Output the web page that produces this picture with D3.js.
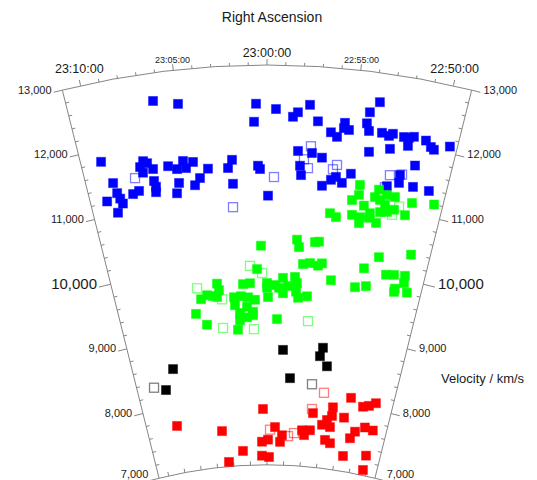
<!DOCTYPE html>
<html>
<head>
<meta charset="utf-8">
<script src="https://cdn.jsdelivr.net/npm/d3@7"></script>
<style>
  html, body { margin: 0; padding: 0; background: #ffffff; }
  svg { display: block; font-family: "Liberation Sans", Arial, Helvetica, sans-serif; }
</style>
</head>
<body>
<svg id="chart" width="537" height="480"></svg>
<script>
// Galaxies in a redshift wedge: [right ascension (deg), velocity (km/s)]
const blueFilled = [
  [346.573,12580],[346.236,12490],[345.153,12420],[344.874,12340],[344.564,12300],[344.632,12230],[344.400,12420],[345.185,12150],[344.275,12180],[344.078,12030],
  [343.985,11970],[343.890,12190],[343.897,12110],[343.823,12090],[343.439,12560],[343.558,12390],[343.580,12220],[343.537,12110],[343.349,12110],[343.244,12080],
  [343.192,12120],[343.029,12100],[342.957,12100],[342.889,12130],[342.710,12110],[342.622,12030],[342.571,12000],[342.357,12100],[342.950,11980],[343.497,11800],
  [343.200,11890],[344.541,11720],[344.333,11700],[344.180,11640],[344.502,11500],[344.480,11360],[342.794,11710],[347.453,11820],[346.843,11710],[346.789,11670],
  [346.902,11630],[346.715,11570],[346.486,11580],[346.255,11630],[346.108,11600],[346.358,11520],[346.222,11520],[345.893,11480],[345.524,11590],[345.590,11470],
  [345.136,11490],[345.106,11440],[346.873,11540],[346.728,11390],[346.711,11300],[346.723,11220],[346.353,11310],[346.112,11250],[346.026,11350],[345.526,11230],
  [344.149,11220],[344.018,11320],[343.946,11370],[343.847,11290],[343.725,11440],[342.989,11530],[342.982,11410],[343.155,11330],[342.761,11390],[342.511,11380],
  [347.345,11470],[347.316,11310],[347.078,11250],[346.979,11280],[347.287,11220],[347.261,11140],[347.494,11220],[347.366,11020],[346.403,11160],[344.984,11040]
];
const blueOpen = [
  [347.005,11480],[344.354,11800],[344.447,11600],[344.380,11470],[343.947,11550],[344.002,11480],
  [344.893,11320],[345.543,10880],[343.137,11500],[342.959,11540],[343.182,11310]
];
const greenFilled = [
  [343.567,11290],[343.266,11260],[343.661,11050],[343.562,11140],[343.464,10990],[343.311,11140],[343.227,11110],[343.132,11200],[343.004,11190],[343.136,11050],
  [342.983,11000],[342.727,11150],[342.387,11200],[342.797,10950],[343.633,10830],[343.501,10810],[343.504,10720],[343.355,10820],[343.232,10760],[343.351,10890],
  [343.196,10930],[343.087,10950],[343.092,10260],[342.569,10390],[343.315,10060],[342.919,10020],[342.783,10040],[342.593,10060],[343.424,9760],[343.233,9800],
  [342.721,9840],[342.497,9820],[342.723,9790],[342.584,9950],[345.102,10290],[344.497,10390],[344.458,10280],[344.194,10370],[344.127,10380],[343.987,10820],
  [343.885,10770],[343.863,9820],[344.375,10030],[344.255,10050],[344.112,10020],[344.047,10060],[345.175,9940],[345.895,9750],[345.868,9650],[346.092,9590],
  [346.208,9540],[345.985,9570],[345.914,9550],[345.431,9720],[345.305,9730],[345.000,9730],[344.856,9700],[344.716,9810],[344.503,9830],[344.463,9740],
  [344.622,9690],[344.783,9660],[345.000,9660],[344.709,9580],[344.431,9520],[344.269,9550],[344.473,9610],[345.604,9530],[345.476,9540],[345.348,9520],
  [345.221,9480],[345.594,9410],[345.372,9380],[345.263,9300],[345.379,9220],[345.508,9290],[345.514,9180],[345.561,9040],[345.264,9250],[344.982,9520],
  [346.332,9330],[346.148,9150],[344.810,9190]
];
const greenOpen = [
  [345.297,9990],[345.088,9880],[346.259,9710],[345.826,9510],[345.847,9080],[345.251,9040],[344.219,9180],[342.915,11060],[343.001,10920]
];
const blackFilled = [
  [346.932,8560],[347.155,8270],[344.679,8730],[344.515,8310],[343.885,8800],[343.929,8670],[343.766,8530]
];
const blackOpen = [[347.393,8340],[344.041,8240]];
const redFilled = [
  [343.173,8110],[345.090,7840],[343.964,7810],[343.535,7930],[342.882,8010],[342.757,8040],[342.622,8100],[347.064,7710],[346.052,7540],[344.814,7570],
  [344.646,7450],[345.120,7350],[344.976,7380],[344.688,7350],[344.183,7540],[343.997,7550],[344.127,7470],[343.732,7650],[343.632,7730],[343.531,7800],
  [343.544,7630],[343.257,7800],[343.622,7430],[343.494,7390],[343.045,7510],[342.956,7620],[342.751,7710],[342.560,7690],[345.587,7220],[345.124,7140],
  [344.950,7120],[345.950,7070],[343.138,7230],[342.590,7300],[342.589,7080]
];
const redOpen = [[343.767,8130],[343.994,7870],[344.930,7530],[344.503,7440],[344.365,7490]];

// Axis extents and tick labels
const raDomain = [347.75, 342.25];          // 23:11:00 .. 22:49:00
const velDomain = [7000, 13000];
const raLabelValues = [347.5, 346.25, 345.0, 343.75, 342.5];
const raLabelText = ["23:10:00", "23:05:00", "23:00:00", "22:55:00", "22:50:00"];
const velTickValues = [7000, 8000, 9000, 10000, 11000, 12000, 13000];
const velTickText = ["7,000", "8,000", "9,000", "10,000", "11,000", "12,000", "13,000"];

const W = 537, H = 480;
const svg = d3.select("#chart");
const deg = Math.PI / 180;
const cx = 267, cy = 911;
const rScale = d3.scaleLinear().domain(velDomain).range([446, 846]);
const aScale = d3.scaleLinear().domain(raDomain).range([-14 * deg, 14 * deg]);
const polar = (a, r) => [cx + r * Math.sin(a), cy - r * Math.cos(a)];
const axisColor = "#858585";
const textColor = "#1a1a1a";

const frame = svg.append("g");
const a0 = aScale(raDomain[0]), a1 = aScale(raDomain[1]);
const rIn = rScale(velDomain[0]), rOut = rScale(velDomain[1]);

// wedge outline
const p = d3.path();
const start = polar(a0, rOut);
p.moveTo(start[0], start[1]);
p.arc(cx, cy, rOut, a0 - Math.PI / 2, a1 - Math.PI / 2, false);
const inner = polar(a1, rIn);
p.lineTo(inner[0], inner[1]);
p.arc(cx, cy, rIn, a1 - Math.PI / 2, a0 - Math.PI / 2, true);
p.closePath();
frame.append("path").attr("d", p.toString())
  .attr("fill", "none").attr("stroke", axisColor).attr("stroke-width", 1);

function tick(x1, y1, x2, y2) {
  frame.append("line").attr("x1", x1).attr("y1", y1).attr("x2", x2).attr("y2", y2)
    .attr("stroke", axisColor).attr("stroke-width", 1);
}

// RA ticks on the outer arc: every minute, longer every five minutes
const raMinutes = d3.range(1, 22).map(m => raDomain[0] - m * 0.25);
raMinutes.forEach(ra => {
  const k = (345 - ra) / 1.25;
  const major = Math.abs(k - Math.round(k)) < 1e-6;
  const a = aScale(ra);
  const q0 = polar(a, rOut), q1 = polar(a, rOut + (major ? 6 : 3));
  tick(q0[0], q0[1], q1[0], q1[1]);
});

// ticks on the inner arc, every 100 s of RA
d3.range(-6, 7).map(k => 345 + k * 100 / 240).forEach(ra => {
  const a = aScale(ra);
  const q0 = polar(a, rIn), q1 = polar(a, rIn + 4);
  tick(q0[0], q0[1], q1[0], q1[1]);
});

// velocity ticks along both radial edges
[[a0, -1], [a1, 1]].forEach(([a, side]) => {
  const nx = side * Math.cos(a), ny = side * Math.sin(a);
  d3.range(velDomain[0], velDomain[1] + 1, 200).forEach(v => {
    const q = polar(a, rScale(v));
    if (v % 1000 === 0) {
      const len = v === 10000 ? 12 : 9;
      tick(q[0], q[1], q[0] + nx * len, q[1] + ny * len);
    } else {
      tick(q[0], q[1], q[0] - nx * 3.5, q[1] - ny * 3.5);
    }
  });
});

// RA labels above the outer arc
raLabelValues.forEach((ra, i) => {
  const big = Math.abs(((345 - ra) / 2.5) - Math.round((345 - ra) / 2.5)) < 1e-6;
  const fs = big ? 12.5 : 9;
  const gap = big ? 8 : 5;
  const a = aScale(ra);
  const ux = Math.sin(a), uy = -Math.cos(a);
  const q = polar(a, rOut);
  const tickEnd = polar(a, rOut + 6);
  const t = svg.append("text").text(raLabelText[i])
    .attr("font-size", fs).attr("fill", textColor).attr("text-anchor", "middle");
  const hw = t.node().getComputedTextLength() / 2;
  const hh = fs * 0.358;
  const dist = gap + Math.abs(hw * ux) + Math.abs(hh * uy);
  const yc = q[1] + uy * dist;
  t.attr("x", tickEnd[0]).attr("y", yc + hh);
});

// velocity labels on both edges
[[a0, -1], [a1, 1]].forEach(([a, side]) => {
  const nx = side * Math.cos(a);
  velTickValues.forEach((v, i) => {
    const big = v === 10000;
    const fs = big ? 15 : 11;
    const len = big ? 12 : 9;
    const q = polar(a, rScale(v));
    const ex = q[0] + nx * len;
    const hh = fs * 0.358;
    const yc = Math.min(q[1] - 0.5, H - hh - 2.5);
    svg.append("text").text(velTickText[i])
      .attr("font-size", fs).attr("fill", textColor)
      .attr("text-anchor", side < 0 ? "end" : "start")
      .attr("x", side < 0 ? ex - 2 : ex + 3)
      .attr("y", yc + hh);
  });
});

// axis titles
svg.append("text").text("Right Ascension")
  .attr("x", 272).attr("y", 22).attr("text-anchor", "middle")
  .attr("font-size", 14).attr("fill", textColor);
svg.append("text").text("Velocity / km/s")
  .attr("x", 441).attr("y", 383)
  .attr("font-size", 13).attr("fill", textColor);

// galaxies
const size = 9;
function drawOpen(data, color) {
  svg.append("g").selectAll("rect").data(data).join("rect")
    .attr("x", d => polar(aScale(d[0]), rScale(d[1]))[0] - size / 2)
    .attr("y", d => polar(aScale(d[0]), rScale(d[1]))[1] - size / 2)
    .attr("width", size).attr("height", size)
    .attr("fill", "none").attr("stroke", color)
    .attr("stroke-opacity", 0.5).attr("stroke-width", 1.3);
}
function drawFilled(data, color) {
  svg.append("g").selectAll("rect").data(data).join("rect")
    .attr("x", d => polar(aScale(d[0]), rScale(d[1]))[0] - size / 2)
    .attr("y", d => polar(aScale(d[0]), rScale(d[1]))[1] - size / 2)
    .attr("width", size).attr("height", size)
    .attr("fill", color).attr("stroke", color)
    .attr("stroke-opacity", 0.45).attr("stroke-width", 1);
}
drawOpen(blueOpen, "#0000ff");
drawFilled(blueFilled, "#0000ff");
drawOpen(greenOpen, "#00ff00");
drawFilled(greenFilled, "#00ff00");
drawOpen(blackOpen, "#000000");
drawFilled(blackFilled, "#000000");
drawOpen(redOpen, "#ff0000");
drawFilled(redFilled, "#ff0000");
</script>
</body>
</html>
